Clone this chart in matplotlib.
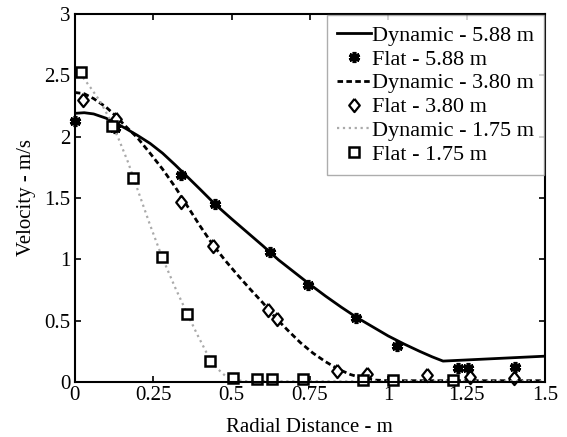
import numpy as np
import matplotlib
matplotlib.use("Agg")
import matplotlib.pyplot as plt

plt.rcParams['font.family'] = ['Liberation Serif', 'DejaVu Serif']

# Dynamic - 5.88 m (solid line)
dyn588_x = [0.0, 0.03, 0.06, 0.1, 0.13, 0.16, 0.2, 0.24, 0.28, 0.32, 0.36, 0.4, 0.447, 0.5,
            0.55, 0.6, 0.65, 0.7, 0.745, 0.8, 0.85, 0.9, 0.95, 1.0, 1.05, 1.1, 1.14, 1.175, 1.5]
dyn588_y = [2.19, 2.195, 2.185, 2.15, 2.11, 2.07, 2.01, 1.945, 1.865, 1.77, 1.67, 1.57, 1.45, 1.33,
            1.22, 1.11, 0.995, 0.895, 0.805, 0.70, 0.61, 0.525, 0.45, 0.375, 0.31, 0.25, 0.205, 0.17, 0.21]
# Flat - 5.88 m
flat588_x = [0.0, 0.128, 0.34, 0.447, 0.622, 0.745, 0.897, 1.028, 1.222, 1.255, 1.404]
flat588_y = [2.13, 2.07, 1.69, 1.45, 1.06, 0.79, 0.52, 0.29, 0.11, 0.11, 0.12]

# Dynamic - 3.80 m (dashed)
dyn380_x = [0.0, 0.03, 0.06, 0.1, 0.13, 0.16, 0.2, 0.24, 0.28, 0.32, 0.36, 0.4, 0.44, 0.48,
            0.52, 0.56, 0.6, 0.64, 0.68, 0.72, 0.76, 0.8, 0.84, 0.88, 0.92, 0.96, 1.0, 1.5]
dyn380_y = [2.36, 2.35, 2.31, 2.24, 2.17, 2.09, 1.99, 1.865, 1.735, 1.59, 1.43, 1.27, 1.12, 0.99,
            0.87, 0.755, 0.645, 0.525, 0.42, 0.32, 0.235, 0.165, 0.105, 0.06, 0.03, 0.015, 0.01, 0.01]
# Flat - 3.80 m
flat380_x = [0.027, 0.13, 0.34, 0.44, 0.617, 0.644, 0.835, 0.933, 1.123, 1.26, 1.40]
flat380_y = [2.30, 2.14, 1.47, 1.11, 0.59, 0.51, 0.09, 0.065, 0.06, 0.04, 0.03]

# Dynamic - 1.75 m (dotted grey)
dyn175_x = [0.015, 0.05, 0.08, 0.11, 0.14, 0.17, 0.2, 0.24, 0.278, 0.32, 0.358, 0.39, 0.42,
            0.45, 0.48, 0.51, 0.55, 1.5]
dyn175_y = [2.52, 2.40, 2.29, 2.15, 1.98, 1.79, 1.57, 1.28, 1.02, 0.77, 0.56, 0.39, 0.24,
            0.12, 0.05, 0.015, 0.005, 0.005]
# Flat - 1.75 m
flat175_x = [0.019, 0.12, 0.185, 0.278, 0.358, 0.43, 0.505, 0.58, 0.63, 0.728, 0.918, 1.015, 1.207]
flat175_y = [2.53, 2.09, 1.66, 1.02, 0.55, 0.17, 0.03, 0.025, 0.025, 0.02, 0.015, 0.015, 0.015]

diamond = [(0, 1), (0.8, 0), (0, -1), (-0.8, 0), (0, 1)]

fig = plt.figure(figsize=(5.67, 4.37), dpi=100)
ax = fig.add_axes([0.132, 0.126, 0.829, 0.842])

ax.plot(dyn588_x, dyn588_y, '-', color='black', lw=2, label='Dynamic - 5.88 m')
ax.plot(flat588_x, flat588_y, ls='none', marker=(6, 2, 0), ms=8, mew=2.6,
        color='black', label='Flat - 5.88 m', clip_on=False)
ax.plot(dyn380_x, dyn380_y, ls=(0, (2, 1.2)), color='black', lw=2, label='Dynamic - 3.80 m')
ax.plot(flat380_x, flat380_y, ls='none', marker=diamond, ms=9.5, mew=1.6, mfc='white',
        mec='black', label='Flat - 3.80 m', clip_on=False)
ax.plot(dyn175_x, dyn175_y, ls=':', color='#aaaaaa', lw=1.6, label='Dynamic - 1.75 m')
ax.plot(flat175_x, flat175_y, ls='none', marker='s', ms=7.5, mew=1.8, mfc='white',
        mec='black', label='Flat - 1.75 m', clip_on=False)

ax.set_xlim(0, 1.5)
ax.set_ylim(0, 3)
ax.set_xticks([0, 0.25, 0.5, 0.75, 1, 1.25, 1.5])
ax.set_xticklabels(['0', '0.25', '0.5', '0.75', '1', '1.25', '1.5'])
ax.set_yticks([0, 0.5, 1, 1.5, 2, 2.5, 3])
ax.set_yticklabels(['0', '0.5', '1', '1.5', '2', '2.5', '3'])
ax.tick_params(direction='in', top=True, right=True, length=4, width=1.2,
               labelsize=15, pad=3)
for s in ax.spines.values():
    s.set_linewidth(1.5)

ax.set_xlabel('Radial Distance - m', fontsize=15, labelpad=9)
ax.set_ylabel('Velocity - m/s', fontsize=15, labelpad=6)

leg = ax.legend(loc='upper right', fontsize=16, handlelength=1.5, handletextpad=0.05,
                labelspacing=0.15, borderpad=0.45, borderaxespad=0.05, fancybox=False,
                frameon=True)
leg.get_frame().set_edgecolor('#999999')
leg.get_frame().set_linewidth(1.0)

fig.savefig('out.png', dpi=100)
